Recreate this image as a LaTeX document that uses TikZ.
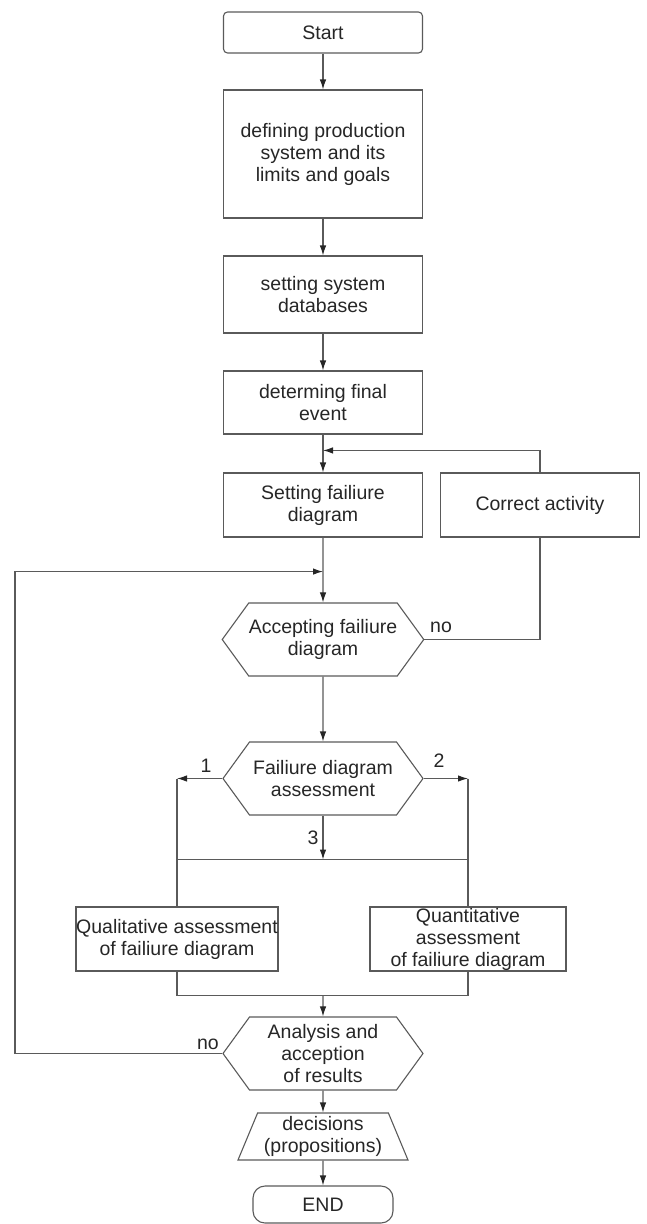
\documentclass[tikz,border=0pt]{standalone}
\usepackage{fontspec}
\setmainfont{Liberation Sans}
\usetikzlibrary{arrows.meta,positioning,shapes.geometric,shapes.symbols}
\definecolor{linegray}{HTML}{5A5A5A}
\definecolor{inkgray}{HTML}{262626}
\newcommand\flowfont{\fontsize{19.5}{22}\selectfont}
\tikzset{
  stepbox/.style={draw=linegray,line width=1.1pt,align=center,text=inkgray,
    minimum width=199pt,inner sep=0pt,font=\flowfont},
  termbox/.style={stepbox,rounded corners=4pt},
  decisionbox/.style={draw=linegray,line width=1.1pt,align=center,text=inkgray,
    shape=signal,signal to=east and west,signal pointer angle=108,
    minimum width=200pt,minimum height=73pt,inner sep=0pt,font=\flowfont},
  outputbox/.style={draw=linegray,line width=1.1pt,align=center,text=inkgray,
    trapezium,trapezium angle=64,trapezium stretches body,
    minimum width=170pt,minimum height=47pt,inner sep=0pt,font=\flowfont},
  flowarrow/.style={-{Latex[length=10pt,width=6.5pt,color=inkgray]},draw=linegray,line width=1.1pt},
  plainline/.style={draw=linegray,line width=1.1pt},
  branchlabel/.style={text=inkgray,font=\flowfont,inner sep=0pt}
}
\begin{document}
\begin{tikzpicture}[x=1pt,y=-1pt]
  \useasboundingbox (0,0) rectangle (646,1224);
  % main column
  \node[termbox,minimum height=41pt] (start) at (323,32.5) {Start};
  \node[stepbox,minimum height=128pt,below=35.9pt of start] (define) {defining production\\system and its\\limits and goals};
  \node[stepbox,minimum height=77pt,below=36.9pt of define] (databases) {setting system\\databases};
  \node[stepbox,minimum height=63pt,below=36.9pt of databases] (finalevent) {determing final\\event};
  \node[stepbox,minimum height=64pt,below=37.9pt of finalevent] (faildiag) {Setting failiure\\diagram};
  \node[stepbox,minimum height=64pt,right=16.9pt of faildiag] (correct) {Correct activity};
  \node[decisionbox,below=64.9pt of faildiag] (accept) {Accepting failiure\\diagram};
  \node[decisionbox,below=64.9pt of accept] (assess) {Failiure diagram\\assessment};
  % two assessments
  \node[stepbox,minimum width=202pt,minimum height=64pt] (quali) at (177,939) {Qualitative assessment\\of failiure diagram};
  \node[stepbox,minimum width=196pt,minimum height=64pt] (quanti) at (468,939) {Quantitative\\assessment\\of failiure diagram};
  \node[decisionbox] (analysis) at (323,1053.5) {Analysis and\\acception\\of results};
  \node[outputbox,below=21.9pt of analysis] (decide) {decisions\\(propositions)};
  \node[termbox,rounded corners=12pt,minimum width=140pt,minimum height=37pt,below=24.9pt of decide] (finish) {END};
  % branch labels
  \node[branchlabel] (lblone) at (206,766) {1};
  \node[branchlabel] (lbltwo) at (439,761) {2};
  \node[branchlabel] (lblthree) at (313,838) {3};
  \node[branchlabel] (noaccept) at (441,627) {no};
  \node[branchlabel] (noloop) at (208,1044) {no};
  % joints
  \coordinate (fbjoin) at ([yshift=22pt]faildiag.north);
  \coordinate (loopjoin) at ([yshift=-34pt]faildiag.south);
  \coordinate (loopleft) at (15,1053.5);
  \coordinate (leftturn) at (quali.north |- assess.west);
  \coordinate (rightturn) at (quanti.north |- assess.east);
  \coordinate (splitmid) at ([yshift=-44pt]assess.south);
  \coordinate (splitleft) at (quali.north |- splitmid);
  \coordinate (splitright) at (quanti.north |- splitmid);
  \coordinate (mergeleft) at ([yshift=-24pt]quali.south);
  \coordinate (mergemid) at (analysis.north |- mergeleft);
  \coordinate (mergeright) at (quanti.south |- mergeleft);
  % connectors
  \draw[flowarrow] (start) -- (define);
  \draw[flowarrow] (define) -- (databases);
  \draw[flowarrow] (databases) -- (finalevent);
  \draw[flowarrow] (finalevent) -- (faildiag);
  \draw[flowarrow] (correct.north) |- (fbjoin);
  \draw[flowarrow] (faildiag) -- (accept);
  \draw[plainline] (accept.east) -| (correct.south);
  \draw[flowarrow] (analysis.west) -- (loopleft) |- (loopjoin);
  \draw[flowarrow] (accept) -- (assess);
  \draw[flowarrow] (assess.west) -- (leftturn);
  \draw[plainline] (leftturn) -- (quali.north);
  \draw[flowarrow] (assess.east) -- (rightturn);
  \draw[plainline] (rightturn) -- (quanti.north);
  \draw[flowarrow] (assess.south) -- (splitmid);
  \draw[plainline] (splitleft) -- (splitright);
  \draw[plainline] (quali.south) -- (mergeleft) -- (mergeright) -- (quanti.south);
  \draw[flowarrow] (mergemid) -- (analysis);
  \draw[flowarrow] (analysis) -- (decide);
  \draw[flowarrow] (decide) -- (finish);
\end{tikzpicture}
\end{document}
